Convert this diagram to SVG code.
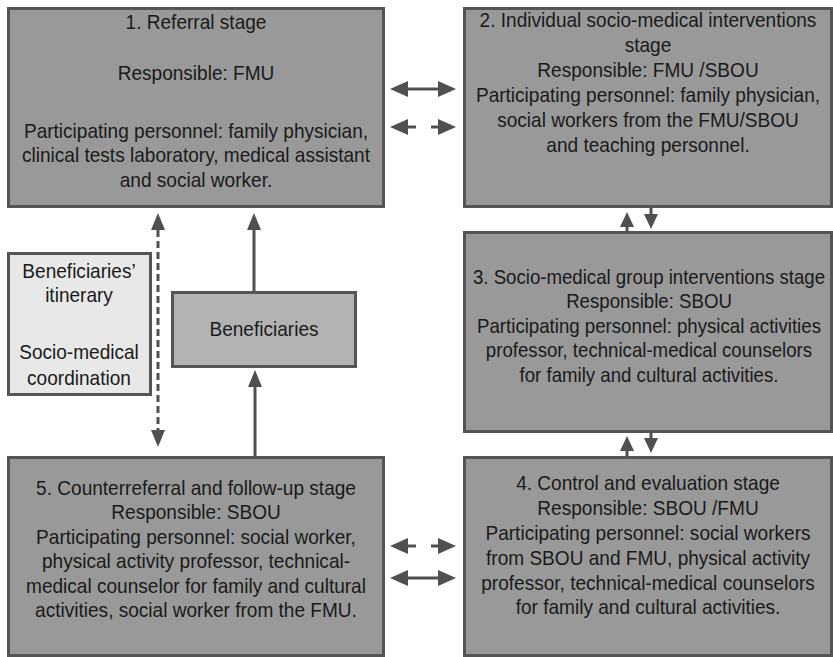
<svg xmlns="http://www.w3.org/2000/svg" width="833" height="657" viewBox="0 0 833 657">
<defs>
<style>
.box{fill:#999999;stroke:#555555;stroke-width:3}
.t{font-family:"Liberation Sans",Arial,sans-serif;font-size:20.5px;fill:#1a1a1a;text-anchor:middle}
.ln{stroke:#505050;stroke-width:3;fill:none}
.dash{stroke:#505050;stroke-width:3;fill:none;stroke-dasharray:7,4}
.hd{fill:#505050}
</style>
</defs>
<rect width="833" height="657" fill="#ffffff"/>
<g id="stage1">
<rect class="box" x="8.5" y="8.5" width="375" height="198"/>
<g transform="translate(196,0) scale(0.93,1)">
<text class="t" x="0" y="29">1. Referral stage</text>
<text class="t" x="0" y="80">Responsible: FMU</text>
<text class="t" x="0" y="138">Participating personnel: family physician,</text>
<text class="t" x="0" y="162">clinical tests laboratory, medical assistant</text>
<text class="t" x="0" y="187">and social worker.</text>
</g>
</g>
<g id="stage2">
<rect class="box" x="464.5" y="8.5" width="367" height="198"/>
<g transform="translate(648,0) scale(0.93,1)">
<text class="t" x="0" y="27">2. Individual socio-medical interventions</text>
<text class="t" x="0" y="52">stage</text>
<text class="t" x="0" y="77">Responsible: FMU /SBOU</text>
<text class="t" x="0" y="102">Participating personnel: family physician,</text>
<text class="t" x="0" y="127">social workers from the FMU/SBOU</text>
<text class="t" x="0" y="152">and teaching personnel.</text>
</g>
</g>
<g id="stage3">
<rect class="box" x="464.5" y="232.5" width="367" height="199"/>
<g transform="translate(649,0) scale(0.91,1)">
<text class="t" x="0" y="284">3. Socio-medical group interventions stage</text>
<text class="t" x="0" y="308">Responsible: SBOU</text>
<text class="t" x="0" y="333">Participating personnel: physical activities</text>
<text class="t" x="0" y="357">professor, technical-medical counselors</text>
<text class="t" x="0" y="382">for family and cultural activities.</text>
</g>
</g>
<g id="stage4">
<rect class="box" x="464.5" y="457.5" width="367" height="198"/>
<g transform="translate(648,0) scale(0.93,1)">
<text class="t" x="0" y="490">4. Control and evaluation stage</text>
<text class="t" x="0" y="515">Responsible: SBOU /FMU</text>
<text class="t" x="0" y="540">Participating personnel: social workers</text>
<text class="t" x="0" y="565">from SBOU and FMU, physical activity</text>
<text class="t" x="0" y="590">professor, technical-medical counselors</text>
<text class="t" x="0" y="614">for family and cultural activities.</text>
</g>
</g>
<g id="stage5">
<rect class="box" x="8.5" y="457.5" width="375" height="198"/>
<g transform="translate(196,0) scale(0.93,1)">
<text class="t" x="0" y="495">5. Counterreferral and follow-up stage</text>
<text class="t" x="0" y="519">Responsible: SBOU</text>
<text class="t" x="0" y="544">Participating personnel: social worker,</text>
<text class="t" x="0" y="568">physical activity professor, technical-</text>
<text class="t" x="0" y="593">medical counselor for family and cultural</text>
<text class="t" x="0" y="617">activities, social worker from the FMU.</text>
</g>
</g>
<g id="itinerary">
<rect x="8.5" y="253.5" width="142" height="141" fill="#e8e8e8" stroke="#555555" stroke-width="3"/>
<g transform="translate(79,0) scale(0.93,1)">
<text class="t" x="0" y="278">Beneficiaries’</text>
<text class="t" x="0" y="302">itinerary</text>
<text class="t" x="0" y="359">Socio-medical</text>
<text class="t" x="0" y="385">coordination</text>
</g>
</g>
<g id="beneficiaries">
<rect x="172.5" y="292.5" width="183" height="74" fill="#b3b3b3" stroke="#555555" stroke-width="3"/>
<g transform="translate(264,0) scale(0.93,1)">
<text class="t" x="0" y="336">Beneficiaries</text>
</g>
</g>
<g id="connectors">
<line class="ln" x1="405" y1="89" x2="440" y2="89"/>
<polygon class="hd" points="390,89 408,81 408,97"/>
<polygon class="hd" points="456,89 438,81 438,97"/>
<line class="ln" x1="405" y1="127" x2="416" y2="127"/>
<line class="ln" x1="431" y1="127" x2="440" y2="127"/>
<polygon class="hd" points="390,127 408,119 408,135"/>
<polygon class="hd" points="456,127 438,119 438,135"/>
<line class="ln" x1="405" y1="546" x2="416" y2="546"/>
<line class="ln" x1="431" y1="546" x2="440" y2="546"/>
<polygon class="hd" points="390,546 408,538 408,554"/>
<polygon class="hd" points="456,546 438,538 438,554"/>
<line class="ln" x1="405" y1="578" x2="440" y2="578"/>
<polygon class="hd" points="390,578 408,570 408,586"/>
<polygon class="hd" points="456,578 438,570 438,586"/>
<line class="ln" x1="627" y1="226" x2="627" y2="232"/>
<polygon class="hd" points="627,212 620,227 634,227"/>
<line class="ln" x1="651" y1="207" x2="651" y2="215"/>
<polygon class="hd" points="651,229 644,214 658,214"/>
<line class="ln" x1="627" y1="450" x2="627" y2="457"/>
<polygon class="hd" points="627,436 620,451 634,451"/>
<line class="ln" x1="651" y1="432" x2="651" y2="440"/>
<polygon class="hd" points="651,453 644,438 658,438"/>
<line class="dash" x1="158" y1="230" x2="158" y2="430"/>
<polygon class="hd" points="158,213 151,230 165,230"/>
<polygon class="hd" points="158,447 151,430 165,430"/>
<line class="ln" x1="254" y1="228" x2="254" y2="291"/>
<polygon class="hd" points="254,213 247,230 261,230"/>
<line class="ln" x1="255" y1="385" x2="255" y2="456"/>
<polygon class="hd" points="255,370 248,387 262,387"/>
</g>
</svg>
